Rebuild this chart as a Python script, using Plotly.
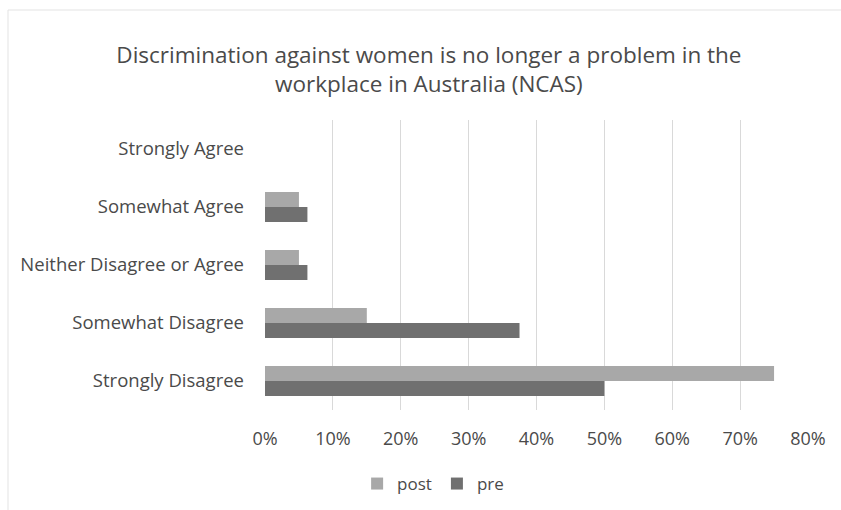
import plotly.graph_objects as go

# Survey responses, listed bottom-to-top as they appear on the y axis
categories = [
    "Strongly Disagree",
    "Somewhat Disagree",
    "Neither Disagree or Agree",
    "Somewhat Agree",
    "Strongly Agree",
]
pre_values = [0.50, 0.375, 0.0625, 0.0625, 0.0]
post_values = [0.75, 0.15, 0.05, 0.05, 0.0]
x_ticks = [0, 0.1, 0.2, 0.3, 0.4, 0.5, 0.6, 0.7, 0.8]

FONT = "Open Sans"
TEXT = "#4a4a4a"

fig = go.Figure()
fig.add_trace(go.Bar(
    name="pre", y=categories, x=pre_values, orientation="h",
    marker=dict(color="#707070", line=dict(width=0)),
))
fig.add_trace(go.Bar(
    name="post", y=categories, x=post_values, orientation="h",
    marker=dict(color="#a8a8a8", line=dict(width=0)),
))

fig.update_layout(
    width=841, height=510,
    margin=dict(l=265, r=33, t=120, b=100),
    paper_bgcolor="white", plot_bgcolor="white",
    barmode="group", bargap=0.48, bargroupgap=0.0,
    font=dict(family=FONT, color=TEXT, size=16),
    title=dict(
        text="Discrimination against women is no longer a problem in the<br>workplace in Australia (NCAS)",
        x=0.51, xref="container", xanchor="center",
        y=1 - 63 / 510, yref="container", yanchor="middle",
        font=dict(family=FONT, size=22.5, color=TEXT),
    ),
    legend=dict(
        orientation="h", traceorder="reversed",
        x=0.515, xref="container", xanchor="center",
        y=1 - 484 / 510, yref="container", yanchor="middle",
        font=dict(size=17, color=TEXT),
    ),
    showlegend=True,
)
fig.update_xaxes(
    range=[0, 0.8], tickvals=x_ticks, tickformat=".0%",
    showgrid=True, gridcolor="#d9d9d9", gridwidth=1,
    zeroline=False, showline=False, ticks="",
    ticklabelstandoff=16,
    tickfont=dict(size=18, color=TEXT),
)
fig.update_yaxes(
    categoryorder="array", categoryarray=categories,
    showgrid=False, showline=False, ticks="",
    ticklabelstandoff=20,
    tickfont=dict(size=18.5, color=TEXT),
)
# faint outer frame of the chart area
fig.add_shape(
    type="rect", xref="paper", yref="paper",
    x0=(8 - 265) / 543, x1=(845 - 265) / 543,
    y0=(410 - 515) / 290, y1=(410 - 10) / 290,
    line=dict(color="#e3e3e3", width=1), layer="below",
)

fig.write_html("out.html")
